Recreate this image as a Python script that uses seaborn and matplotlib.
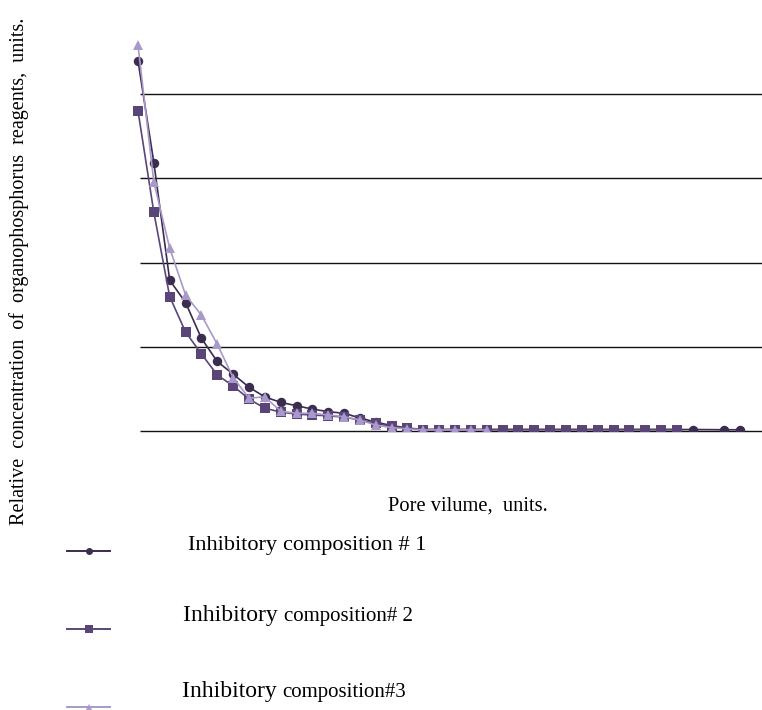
import numpy as np
import pandas as pd
import matplotlib
matplotlib.use("Agg")
import matplotlib.pyplot as plt
from matplotlib.lines import Line2D
import seaborn as sns

# dados (volume de poros em passos, concentração relativa)
comp1_x = list(range(36)) + [37, 38]
comp1_y = [0.879, 0.637, 0.358, 0.305, 0.220, 0.165, 0.135, 0.104, 0.081, 0.068,
           0.060, 0.052, 0.046, 0.042, 0.031, 0.021, 0.013, 0.007, 0.0035, 0.0035,
           0.0035, 0.0035, 0.0035, 0.0035, 0.0035, 0.0035, 0.0035, 0.0035, 0.0035, 0.0035,
           0.0035, 0.0035, 0.0035, 0.0035, 0.0035, 0.0035, 0.003, 0.003]

comp2_x = list(range(35))
comp2_y = [0.760, 0.519, 0.319, 0.235, 0.183, 0.133, 0.107, 0.076, 0.054, 0.045,
           0.040, 0.038, 0.036, 0.033, 0.026, 0.018, 0.011, 0.006, 0.0035, 0.0035,
           0.0035, 0.0035, 0.0035, 0.0035, 0.0035, 0.0035, 0.0035, 0.0035, 0.0035, 0.0035,
           0.0035, 0.0035, 0.0035, 0.0035, 0.0035]

comp3_x = list(range(23))
comp3_y = [0.916, 0.591, 0.434, 0.323, 0.275, 0.206, 0.127, 0.078, 0.081, 0.047,
           0.042, 0.042, 0.038, 0.034, 0.026, 0.014, 0.008, 0.005, 0.0025, 0.0025,
           0.0025, 0.0025, 0.0025]

series_names = ["c1", "c2", "c3"]
colors = {"c1": "#3b2c50", "c2": "#5a4578", "c3": "#a999ca"}
markers = {"c1": "o", "c2": "s", "c3": "^"}
grid_levels = [0, 0.2, 0.4, 0.6, 0.8]

df = pd.concat([
    pd.DataFrame({"pv": comp1_x, "conc": comp1_y, "comp": "c1"}),
    pd.DataFrame({"pv": comp2_x, "conc": comp2_y, "comp": "c2"}),
    pd.DataFrame({"pv": comp3_x, "conc": comp3_y, "comp": "c3"}),
], ignore_index=True)

serif = "Liberation Serif"
W, H = 762, 710
fig = plt.figure(figsize=(W / 100, H / 100), dpi=100)

# eixo: x=0 em 138 px, passo 15.85 px; y=0 em 431 px, 1.0 em ~10 px
left_px = 100
step = 15.85
ax = fig.add_axes([left_px / W, 1 - 431 / H, (W - left_px) / W, (431 - 9.75) / H])
ax.set_xlim((left_px - 138) / step, (W - 138) / step)
ax.set_ylim(0, 1.0)

x0 = (140 - 138) / step
ax.hlines(grid_levels, x0, (W - 138) / step, color="#111111", lw=1.0, zorder=1,
          clip_on=False)

sns.lineplot(data=df, x="pv", y="conc", hue="comp", style="comp",
             hue_order=series_names, style_order=series_names,
             palette=colors, markers=markers, dashes=False, estimator=None,
             markersize=6.8, markeredgewidth=0, linewidth=1.2,
             legend=False, ax=ax, zorder=3)

for s in ax.spines.values():
    s.set_visible(False)
ax.set_xticks([])
ax.set_yticks([])
ax.set_xlabel("")
ax.set_ylabel("")
ax.set_facecolor("none")

fig.text(19 / W, 1 - 271 / H,
         "Relative  concentration  of  organophosphorus  reagents,  units.",
         rotation=90, ha="center", va="center", fontsize=14.5, family=serif)
fig.text(468 / W, 1 - 506 / H, "Pore vilume,  units.",
         ha="center", va="center", fontsize=14.8, family=serif)

# legenda manual
leg_y = [551, 629, 707]
for name, yy in zip(series_names, leg_y):
    fy = 1 - yy / H
    fig.add_artist(Line2D([67 / W, 88.5 / W, 110 / W], [fy, fy, fy],
                          color=colors[name], lw=1.4, marker=markers[name],
                          markevery=[1], markersize=5 if name != "c2" else 6,
                          markeredgewidth=0))

fig.canvas.draw()
renderer = fig.canvas.get_renderer()


def two_part(x_px, base_px, big, small, big_size, small_size):
    t1 = fig.text(x_px / W, 1 - base_px / H, big, ha="left", va="baseline",
                  fontsize=big_size, family=serif)
    bb = t1.get_window_extent(renderer)
    fig.text(bb.x1 / W, 1 - base_px / H, small, ha="left", va="baseline",
             fontsize=small_size, family=serif)


two_part(188, 550, "Inhibitory ", "composition # 1", 16, 16)
two_part(183, 621, "Inhibitory ", "composition# 2", 17, 15)
two_part(182, 697, "Inhibitory ", "composition#3", 17, 15)

fig.savefig("out.png", dpi=100, facecolor="white")
